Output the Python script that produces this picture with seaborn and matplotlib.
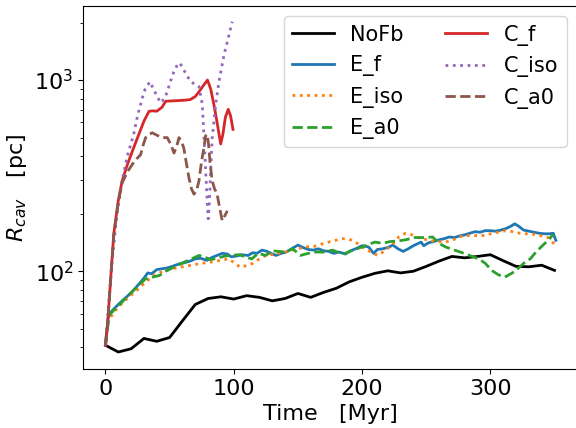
import matplotlib
matplotlib.use("Agg")
import matplotlib.pyplot as plt
import pandas as pd
import seaborn as sns

# cavity radius [pc] against time [Myr]
nofb_t = [0, 10, 20, 30, 40, 50, 60, 70, 80, 90, 100, 110, 120, 130, 140, 150, 160, 170,
          180, 190, 200, 210, 220, 230, 240, 250, 260, 270, 280, 290, 300, 310, 320, 330,
          340, 350]
nofb_r = [41, 37.8, 39.3, 44.5, 43, 45, 55, 67, 72, 73.5, 71.5, 74.5, 73, 70, 72, 76.5,
          73, 77.5, 81.5, 88, 93, 97.5, 100.5, 98, 100, 106, 113, 119.5, 117.5, 119.5,
          122, 113.5, 106, 105.5, 107.5, 101]

ef_t = [0, 2, 5, 10, 15, 20, 25, 30, 33, 36, 40, 44, 48, 52, 57, 62, 66, 70, 74, 79, 83,
        87, 91, 95, 98, 102, 106, 111, 115, 118, 122, 126, 129, 133, 137, 141, 145, 150,
        154, 158, 162, 166, 170, 174, 178, 182, 187, 191, 195, 200, 205, 209, 212, 216,
        220, 224, 228, 232, 236, 240, 244, 246, 248, 252, 256, 260, 264, 268, 272, 276,
        280, 284, 288, 292, 296, 300, 304, 308, 312, 316, 319, 322, 326, 330, 334, 338,
        342, 346, 349, 351]
ef_r = [41, 57, 62, 67, 72, 77, 84, 92, 98, 97, 102, 103, 104, 106, 109, 111, 113, 116,
        117, 114, 118, 121, 124, 123, 119, 120, 122, 121, 125, 124, 129, 127, 124, 121,
        124, 126, 131, 137, 133, 130, 129, 131, 128, 127, 124, 126, 123, 128, 131, 136,
        134, 124, 130, 131, 133, 137, 131, 127, 131, 136, 140, 142, 136, 141, 143, 146,
        148, 151, 150, 153, 155, 158, 161, 160, 163, 163, 162, 164, 167, 172, 177, 172,
        164, 162, 160, 158, 157, 157, 158, 145]

eiso_t = [0, 2, 6, 10, 15, 20, 25, 30, 35, 40, 47, 55, 65, 75, 83, 90, 96, 101, 105, 110,
          115, 120, 125, 132, 140, 148, 156, 163, 169, 177, 185, 190, 195, 200, 205, 212,
          218, 224, 229, 234, 238, 242, 247, 252, 258, 265, 271, 278, 285, 293, 300, 306,
          312, 318, 323, 328, 334, 340, 345, 350]
eiso_r = [41, 55, 60, 65, 70, 75, 80, 86, 92, 97, 101, 104, 107, 110, 112, 114, 116, 110,
          105, 107, 110, 116, 121, 123, 126, 130, 134, 135, 139, 144, 148, 147, 142, 134,
          128, 121, 128, 139, 152, 158, 156, 151, 148, 145, 143, 142, 146, 153, 154, 153,
          157, 160, 163, 161, 158, 157, 156, 153, 150, 138]

ea0_t = [0, 3, 8, 13, 18, 24, 31, 36, 42, 47, 52, 57, 62, 67, 73, 78, 82, 87, 93, 98, 104,
         109, 114, 119, 125, 130, 135, 140, 146, 152, 158, 164, 171, 177, 182, 187, 193,
         200, 205, 210, 216, 222, 228, 234, 241, 248, 255, 260, 265, 272, 278, 285, 291,
         296, 301, 306, 311, 316, 320, 326, 331, 336, 341, 345, 349]
ea0_r = [41, 59, 64, 69, 75, 82, 91, 93, 95, 100, 104, 108, 112, 116, 121, 118, 115, 117,
         120, 121, 122, 119, 116, 124, 121, 128, 127, 126, 131, 121, 124, 126, 126, 129,
         125, 124, 129, 134, 138, 142, 140, 143, 144, 146, 150, 150, 151, 140, 134, 129,
         125, 120, 116, 110, 101, 96, 93, 97, 101, 110, 116, 127, 137, 145, 156]

cf_t = [0, 1.5, 4, 6.5, 10, 13, 17, 21, 24, 27, 30, 34, 37, 40, 44, 47, 52, 57, 62, 66,
        70, 73, 76, 79.5, 82, 84.5, 87, 89.8, 91.5, 93.5, 95.7, 97.5, 99.4]
cf_r = [41, 51, 90, 157, 234, 297, 360, 425, 480, 541, 610, 687, 690, 687, 720, 775, 778,
        781, 785, 790, 820, 870, 930, 1000, 900, 745, 600, 463, 520, 640, 703, 650, 552]

ciso_t = [0, 2, 5, 9, 13, 17, 22, 25, 28.7, 31, 34.7, 38, 43, 46, 48.2, 51, 53.4, 56, 58,
          62, 66.4, 72.9, 75.5, 76.8, 78.1, 79.4, 80.1, 81, 82, 83.2, 85.9, 88.5, 92.4,
          95, 98.8]
ciso_r = [41, 60, 110, 200, 297, 400, 520, 650, 805, 900, 980, 880, 760, 800, 870, 1000,
          1110, 1200, 1230, 1100, 980, 925, 745, 500, 335, 225, 188, 230, 335, 499, 745,
          985, 1355, 1585, 2020]

ca0_t = [0, 1.5, 4, 6.5, 10, 13, 17, 21, 24, 27.4, 29.5, 31.3, 34, 36.5, 40, 44.3, 48.2,
         51, 53.4, 55.5, 57.3, 59, 61, 63, 65, 67, 69, 71, 72.9, 75, 76.8, 78, 79.4, 80.5,
         81.5, 83.2, 85, 87, 89, 91, 93, 95]
ca0_r = [41, 51, 90, 155, 230, 290, 330, 363, 385, 407, 460, 500, 520, 530, 515, 500, 500,
         460, 415, 450, 500, 480, 443, 370, 310, 270, 253, 265, 297, 380, 443, 510, 520,
         450, 370, 297, 270, 253, 215, 184, 195, 207]

runs = [
    ("NoFb", nofb_t, nofb_r, "black", "-"),
    ("E_f", ef_t, ef_r, "tab:blue", "-"),
    ("E_iso", eiso_t, eiso_r, "tab:orange", ":"),
    ("E_a0", ea0_t, ea0_r, "tab:green", "--"),
    ("C_f", cf_t, cf_r, "tab:red", "-"),
    ("C_iso", ciso_t, ciso_r, "tab:purple", ":"),
    ("C_a0", ca0_t, ca0_r, "tab:brown", "--"),
]

plt.rcParams["font.size"] = 16

fig = plt.figure(figsize=(5.76, 4.28), dpi=100)
ax = fig.add_axes([83 / 576, 59 / 428, 494 / 576, 363 / 428])

for name, t, r, col, ls in runs:
    df = pd.DataFrame({"time": t, "rcav": r})
    sns.lineplot(data=df, x="time", y="rcav", color=col, linestyle=ls,
                 linewidth=2, label=name, ax=ax)

ax.set_yscale("log")
ax.set_xlim(-17.5, 367.5)
ax.set_ylim(30.8, 2440)
ax.set_xticks([0, 100, 200, 300])
ax.set_xlabel("Time   [Myr]")
ax.set_ylabel(r"$R_{cav}$   [pc]")
ax.legend(loc="upper right", ncol=2, fontsize=15)

fig.savefig("out.png", dpi=100)
